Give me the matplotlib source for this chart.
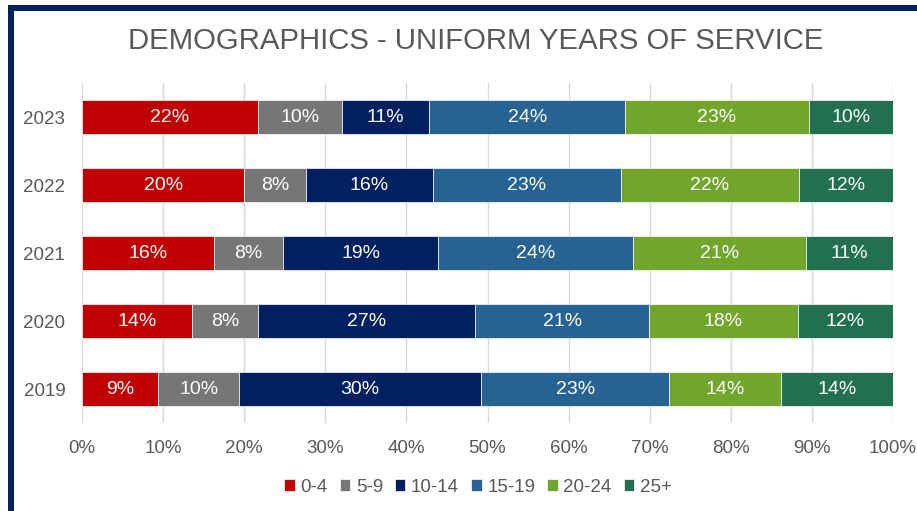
import matplotlib
matplotlib.use("Agg")
import matplotlib.pyplot as plt
from matplotlib.lines import Line2D
import numpy as np

plt.rcParams['font.family'] = ['Liberation Sans', 'DejaVu Sans']

years = ["2019", "2020", "2021", "2022", "2023"]
series_names = ["0-4", "5-9", "10-14", "15-19", "20-24", "25+"]
s_0_4   = [9.4, 13.6, 16.3, 20.0, 21.7]
s_5_9   = [10.0, 8.1, 8.5, 7.6, 10.3]
s_10_14 = [29.8, 26.8, 19.1, 15.7, 10.8]
s_15_19 = [23.2, 21.4, 24.0, 23.1, 24.2]
s_20_24 = [13.8, 18.4, 21.4, 22.0, 22.6]
s_25p   = [13.8, 11.7, 10.7, 11.6, 10.4]
series = [s_0_4, s_5_9, s_10_14, s_15_19, s_20_24, s_25p]
colors = ["#C00000", "#767676", "#00205F", "#266392", "#72A52B", "#237050"]
xticks = [0, 10, 20, 30, 40, 50, 60, 70, 80, 90, 100]

W, H = 917, 511
fig = plt.figure(figsize=(W/100, H/100), dpi=100)
ax = fig.add_axes([82/W, 1-423/H, (893-82)/W, (423-83)/H])

txtc = "#595959"
y = np.arange(len(years))
left = np.zeros(len(years))
for name, vals, c in zip(series_names, series, colors):
    vals = np.array(vals, dtype=float)
    ax.barh(y, vals, left=left, height=0.49, color=c, edgecolor="white",
            linewidth=0.5, label=name, zorder=3)
    for yi, l, v in zip(y, left, vals):
        ax.text(l + v/2, yi, f"{v:.0f}%", ha="center", va="center",
                color="white", fontsize=14, zorder=4)
    left += vals

ax.set_xlim(0, 100)
ax.set_ylim(-0.5, 4.5)
ax.set_xticks(xticks)
ax.set_xticklabels([f"{t}%" for t in xticks])
ax.set_yticks(y)
ax.set_yticklabels(years)
ax.tick_params(axis="both", length=0, labelsize=13.5, colors=txtc)
ax.tick_params(axis="x", pad=12)
ax.tick_params(axis="y", pad=12)
ax.grid(axis="x", color="#D9D9D9", linewidth=1, zorder=0)
for s in ax.spines.values():
    s.set_visible(False)

fig.text(475.5/W, 1-41/H, "DEMOGRAPHICS - UNIFORM YEARS OF SERVICE",
         ha="center", va="center", fontsize=21.2, color=txtc)

leg = fig.legend(loc="center", bbox_to_anchor=(478/W, 1-487/H), ncol=6,
                 frameon=False, fontsize=13.5, handlelength=0.55, handleheight=0.55,
                 handletextpad=0.3, columnspacing=0.65, labelcolor=txtc)

# frame border
fig.add_artist(Line2D([10.5/W, 10.5/W, (W+20)/W], [-0.1, 1-8/H, 1-8/H],
                      transform=fig.transFigure, color="#002060", linewidth=4.3,
                      solid_joinstyle="miter"))

fig.savefig("out.png", dpi=100, facecolor="white")
